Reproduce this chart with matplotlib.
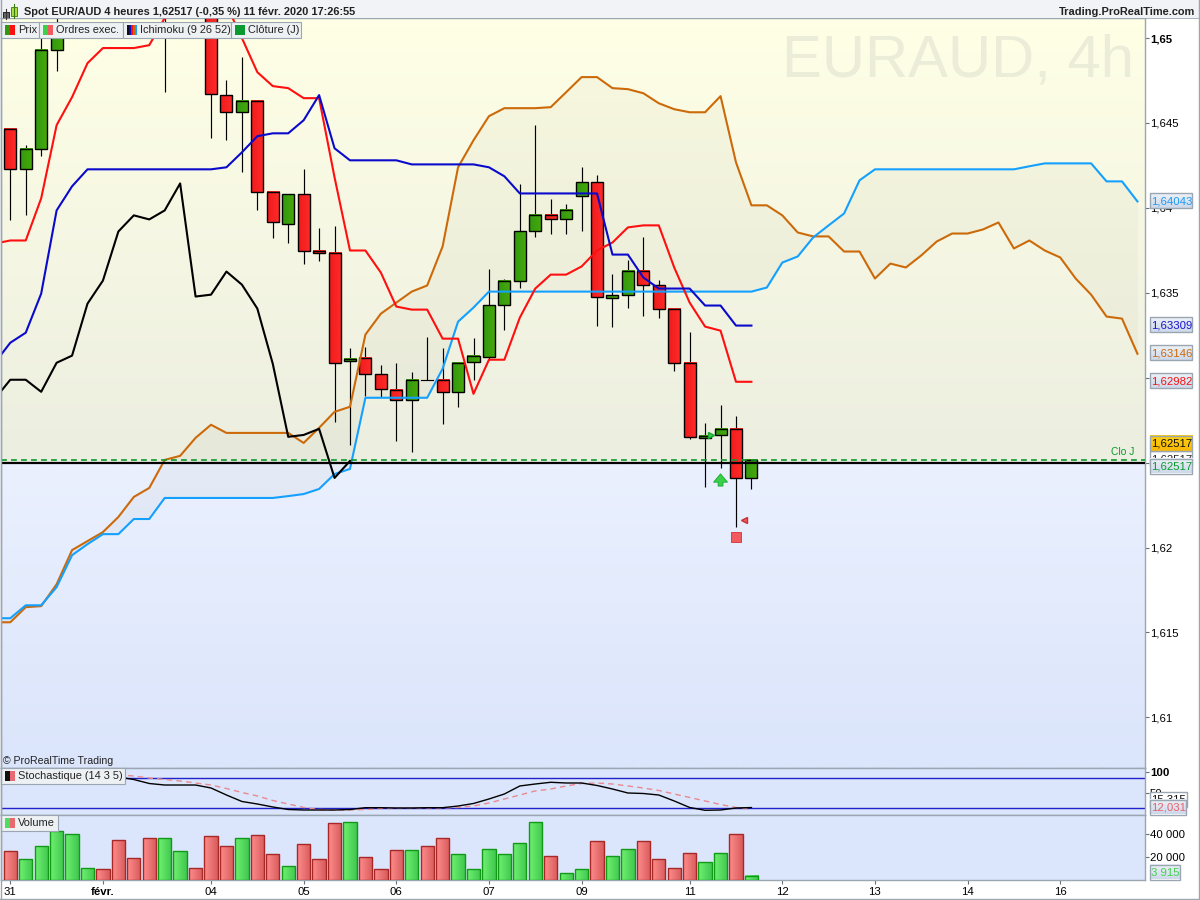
import numpy as np
import matplotlib as mpl
mpl.use('Agg')
import matplotlib.pyplot as plt
from matplotlib.patches import Rectangle

plt.rcParams['font.family'] = ['Liberation Sans', 'DejaVu Sans']

# candles: hidden ones above the top of the chart are left out
candle_idx = [0, 1, 2, 3, 10, 13, 14, 15, 16, 17, 18, 19, 20, 21, 22, 23, 24, 25, 26, 27, 28, 29, 30, 31,
              32, 33, 34, 35, 36, 37, 38, 39, 40, 41, 42, 43, 44, 45, 46, 47, 48]
opens = [1.64463, 1.64227, 1.64345, 1.64929, 1.6530, 1.6525, 1.64663, 1.64563, 1.64628, 1.64091, 1.63908,
         1.64079, 1.63749, 1.63737, 1.63100, 1.63118, 1.63023, 1.62929, 1.62870, 1.62988, 1.62988, 1.62917,
         1.63094, 1.63124, 1.63430, 1.63572, 1.63861, 1.63961, 1.63932, 1.64068, 1.64150, 1.63472, 1.63489,
         1.63631, 1.63543, 1.63407, 1.63088, 1.62646, 1.62663, 1.62699, 1.62410]
closes = [1.64227, 1.64345, 1.64929, 1.65077, 1.6520, 1.64669, 1.64563, 1.64628, 1.64091, 1.63914, 1.64079,
          1.63749, 1.63737, 1.63088, 1.63112, 1.63023, 1.62935, 1.62870, 1.62988, 1.62988, 1.62917, 1.63088,
          1.63130, 1.63430, 1.63572, 1.63861, 1.63956, 1.63932, 1.63985, 1.64150, 1.63478, 1.63489, 1.63631,
          1.63548, 1.63407, 1.63088, 1.62652, 1.62658, 1.62699, 1.62410, 1.62517]
highs = [1.64463, 1.64369, 1.65006, 1.65118, 1.6535, 1.6530, 1.64752, 1.64888, 1.64628, 1.64097, 1.64079,
         1.64227, 1.63879, 1.63891, 1.63177, 1.63183, 1.63076, 1.63088, 1.63035, 1.63242, 1.63177, 1.63094,
         1.63236, 1.63643, 1.63584, 1.64138, 1.64487, 1.64050, 1.64020, 1.64239, 1.64192, 1.63613, 1.63696,
         1.63826, 1.63578, 1.63407, 1.63271, 1.62734, 1.62840, 1.62776, 1.62517]
lows = [1.63926, 1.63961, 1.64304, 1.64805, 1.64681, 1.64410, 1.64398, 1.64209, 1.63985, 1.63820, 1.63796,
        1.63672, 1.63690, 1.62740, 1.62604, 1.62894, 1.62888, 1.62628, 1.62563, 1.62988, 1.62728, 1.62829,
        1.62988, 1.63106, 1.63283, 1.63531, 1.63826, 1.63849, 1.63849, 1.63861, 1.63307, 1.63301, 1.63413,
        1.63366, 1.63354, 1.63041, 1.62640, 1.62357, 1.62469, 1.62121, 1.62345]

# ichimoku, first value is the bar before the left edge
tenkan = [1.63790, 1.63808, 1.63808, 1.64056, 1.64487, 1.64652, 1.64852, 1.64941, 1.64941, 1.64941, 1.64958,
          1.65118, 1.6515, 1.6515, 1.6518, 1.65195, 1.65000, 1.64799, 1.64717, 1.64705, 1.64646, 1.64646,
          1.64180, 1.63749, 1.63749, 1.63619, 1.63419, 1.63401, 1.63401, 1.63230, 1.63230, 1.62905, 1.63106,
          1.63106, 1.63354, 1.63525, 1.63607, 1.63607, 1.63655, 1.63749, 1.63796, 1.63885, 1.63897, 1.63897,
          1.63649, 1.63442, 1.63301, 1.63277, 1.62976, 1.62976]
kijun = [1.63088, 1.63206, 1.63265, 1.63495, 1.63985, 1.64127, 1.64227, 1.64227, 1.64227, 1.64227, 1.64227,
         1.64227, 1.64227, 1.64227, 1.64227, 1.64239, 1.64327, 1.64422, 1.64439, 1.64439, 1.64516, 1.64664,
         1.64351, 1.64280, 1.64280, 1.64280, 1.64280, 1.64256, 1.64256, 1.64256, 1.64256, 1.64256, 1.64239,
         1.64186, 1.64085, 1.64085, 1.64085, 1.64085, 1.64085, 1.64085, 1.63725, 1.63725, 1.63590, 1.63525,
         1.63525, 1.63525, 1.63425, 1.63425, 1.63307, 1.63307]
chikou = [1.62876, 1.62988, 1.62988, 1.62917, 1.63088, 1.63130, 1.63436, 1.63572, 1.63861, 1.63956, 1.63932,
          1.63985, 1.64144, 1.63478, 1.63489, 1.63625, 1.63548, 1.63407, 1.63082, 1.62652, 1.62663, 1.62699,
          1.62410, 1.62510]
senkou_b = [1.61560, 1.61560, 1.61649, 1.61655, 1.61784, 1.61985, 1.62038, 1.62091, 1.62180, 1.62298, 1.62351,
            1.62516, 1.62540, 1.62646, 1.62723, 1.62675, 1.62675, 1.62675, 1.62675, 1.62675, 1.62616, 1.62705,
            1.62799, 1.62829, 1.63254, 1.63377, 1.63442, 1.63507, 1.63543, 1.63773, 1.64239, 1.64398, 1.64540,
            1.64587, 1.64587, 1.64587, 1.64593, 1.64681, 1.64770, 1.64770, 1.64705, 1.64699, 1.64675, 1.64616,
            1.64581, 1.64563, 1.64563, 1.64658, 1.64268, 1.64015, 1.64015, 1.63956, 1.63855, 1.63832, 1.63832,
            1.63743, 1.63743, 1.63584, 1.63672, 1.63649, 1.63720, 1.63802, 1.63849, 1.63849, 1.63873, 1.63914,
            1.63761, 1.63808, 1.63749, 1.63708, 1.63584, 1.63489, 1.63360, 1.63348, 1.63141]
senkou_a = [1.61584, 1.61584, 1.61660, 1.61660, 1.61767, 1.61955, 1.62020, 1.62079, 1.62079, 1.62168, 1.62168,
            1.62292, 1.62292, 1.62292, 1.62292, 1.62292, 1.62292, 1.62292, 1.62292, 1.62303, 1.62315, 1.62345,
            1.62433, 1.62463, 1.62882, 1.62882, 1.62882, 1.62882, 1.62882, 1.63053, 1.63330, 1.63413, 1.63507,
            1.63507, 1.63507, 1.63507, 1.63507, 1.63507, 1.63507, 1.63507, 1.63507, 1.63507, 1.63507, 1.63507,
            1.63507, 1.63507, 1.63507, 1.63507, 1.63507, 1.63507, 1.63531, 1.63678, 1.63714, 1.63826, 1.63897,
            1.63967, 1.64162, 1.64227, 1.64227, 1.64227, 1.64227, 1.64227, 1.64227, 1.64227, 1.64227, 1.64227,
            1.64227, 1.64245, 1.64262, 1.64262, 1.64262, 1.64262, 1.64156, 1.64156, 1.64038]

# stochastic from bar 7 on (before that it sits behind the legend)
stoch_k = [88.1, 82.1, 72.6, 69.0, 69.0, 69.0, 61.9, 45.2, 29.8, 23.8, 16.7, 10.7, 9.5, 9.5, 9.5, 10.7, 15.0,
           15.0, 14.3, 14.3, 15.0, 15.0, 19.0, 25.0, 35.7, 47.6, 66.7, 71.4, 75.5, 73.8, 73.8, 67.9, 59.5, 50.0,
           48.8, 45.2, 31.0, 15.5, 8.8, 9.5, 14.3, 15.3]
stoch_d = [92.9, 90.5, 85.7, 82.1, 78.6, 73.8, 69.0, 60.7, 51.2, 42.9, 32.1, 23.8, 15.5, 10.7, 9.5, 9.5, 10.7,
           13.1, 14.3, 14.3, 14.3, 14.3, 15.5, 19.0, 26.2, 35.7, 45.2, 54.8, 59.5, 66.7, 72.6, 73.8, 71.4, 66.7,
           61.9, 56.0, 47.6, 39.3, 31.0, 22.6, 15.5, 12.03]

volumes = [25230, 18000, 29300, 42600, 39700, 10200, 9300, 34500, 18900, 36300, 36300, 25000, 10200, 38000,
           29300, 36300, 38900, 22400, 11900, 31000, 18000, 49300, 50200, 19700, 9300, 25800, 25800, 29300,
           36300, 22400, 9300, 26700, 22400, 31900, 50200, 20600, 5800, 9300, 33700, 20600, 26700, 33700,
           18000, 10200, 23200, 15400, 23200, 39700, 3915]
vol_up = "rgggggrrrrggrrrgrrgrrrgrrrgrrggggggrggrggrrrrggrg"

price_ticks = [1.65, 1.645, 1.64, 1.635, 1.63, 1.625, 1.62, 1.615, 1.61]
price_labels = ['1,65', '1,645', '1,64', '1,635', '1,63', '1,625', '1,62', '1,615', '1,61']
day_idx = [0, 6, 13, 19, 25, 31, 37, 44, 50, 56, 62, 68]
day_labels = ['31', 'févr.', '04', '05', '06', '07', '09', '11', '12', '13', '14', '16']

close_line = 1.62500
daily_close = 1.62517
buy_arrow = (46, 1.62398)
buy_tri = (45.4, 1.62664)
sell_tri = (47.5, 1.62162)
sell_square = (47, 1.62062)

FRAME = '#9aa6b2'
W, H = 1200., 900.
LEFT, RIGHT = 1., 1145.
XLIM = (-0.602, 73.49)


def axes_px(y0, y1):
    return fig.add_axes([LEFT / W, 1 - y1 / H, (RIGHT - LEFT) / W, (y1 - y0) / H])


def shade(ax, x0, x1, y0, y1, c0, c1, vertical=False, z=3):
    # y0 is the value at the top edge of the shaded box, y1 at the bottom one
    cols = mpl.colors.to_rgb(c0), mpl.colors.to_rgb(c1)
    grad = np.linspace(cols[0], cols[1], 24)
    grad = grad[:, None, :] if vertical else grad[None, :, :]
    ax.imshow(grad, extent=[x0, x1, y1, y0], aspect='auto', origin='upper', zorder=z, interpolation='bilinear')


fig = plt.figure(figsize=(12, 9), dpi=100, facecolor='white')

# --- price panel
ax = axes_px(18, 768)
ylim = (1.60702, 1.65118)
shade(ax, *XLIM, ylim[1], close_line, '#ffffe6', '#eceee0', vertical=True, z=0)
shade(ax, *XLIM, close_line, ylim[0], '#eaf0fe', '#dbe5fb', vertical=True, z=0)

x_cloud = np.arange(-1, 74)
ax.fill_between(x_cloud, senkou_a, senkou_b, color='#666644', alpha=0.04, lw=0, zorder=1)

for i, o, c, h, l in zip(candle_idx, opens, closes, highs, lows):
    ax.plot([i, i], [l, h], color='black', lw=0.85, zorder=2, solid_capstyle='butt')
    if o == c:
        ax.plot([i - 0.39, i + 0.39], [o, o], color='black', lw=0.85, zorder=3)
        continue
    top, bot = max(o, c), min(o, c)
    if c > o:
        shade(ax, i - 0.39, i + 0.39, top, bot, '#2f9a10', '#4aa80c')
    else:
        shade(ax, i - 0.39, i + 0.39, top, bot, '#f01c1c', '#ff2a2a')
    ax.add_patch(Rectangle((i - 0.39, bot), 0.78, top - bot, fill=False, ec='black', lw=1.0, zorder=4))

ax.plot(x_cloud, senkou_b, color='#cc6a0a', lw=1.5, zorder=5)
ax.plot(x_cloud, senkou_a, color='#14a0ff', lw=1.5, zorder=5)
ax.plot(np.arange(-1, 23), chikou, color='black', lw=1.5, zorder=5)
ax.plot(np.arange(-1, 49), tenkan, color='#ff0f0f', lw=1.5, zorder=5)
ax.plot(np.arange(-1, 49), kijun, color='#0a0acc', lw=1.5, zorder=5)

ax.axhline(close_line, color='black', lw=1.6, zorder=6)
ax.axhline(daily_close, color='#0a9a30', lw=1.2, ls=(0, (3.5, 2.5)), zorder=6)

ax.annotate('', xy=(buy_arrow[0], buy_arrow[1] + 0.00036), xytext=(buy_arrow[0], buy_arrow[1] - 0.00036),
            arrowprops=dict(width=3.5, headwidth=10, headlength=6, fc='#3ad04a', ec='#18a830', lw=0.6,
                            shrink=0), zorder=7)
ax.plot(*buy_tri, marker='>', ms=5, color='#3ad04a', mec='#18a830', zorder=7)
ax.plot(*sell_tri, marker='<', ms=5, color='#f25a5f', mec='#c83030', zorder=7)
ax.plot(*sell_square, marker='s', ms=7.5, color='#f25a5f', mec='#d84040', mew=0.7, zorder=7)

ax.set_ylim(ylim)
ax.set_yticks(price_ticks, price_labels)

# --- stochastic panel
ax2 = axes_px(768, 815)
ax2.set_facecolor('#dbe5fb')
x_st = np.arange(7, 49)
ax2.axhline(86.7, color='#2222cc', lw=1, zorder=2)
ax2.axhline(13.6, color='#2222cc', lw=1, zorder=2)
ax2.plot(x_st, stoch_d, color='#e88a90', lw=1.0, ls=(0, (4, 3)), zorder=3)
ax2.plot(x_st, stoch_k, color='black', lw=1.0, zorder=4)
ax2.set_ylim(-2.4, 109.5)
ax2.set_yticks([100, 50], ['100', '50'])

# --- volume panel
ax3 = axes_px(815, 880)
ax3.set_facecolor('#dbe5fb')
for i, (v, kind) in enumerate(zip(volumes, vol_up)):
    if kind == 'g':
        shade(ax3, i - 0.43, i + 0.43, v, 0, '#70f070', '#40c850')
        ec = '#109a18'
    else:
        shade(ax3, i - 0.43, i + 0.43, v, 0, '#ff8c8c', '#d85c5c')
        ec = '#a82828'
    ax3.add_patch(Rectangle((i - 0.43, 0), 0.86, v, fill=False, ec=ec, lw=1.0, zorder=4))
ax3.set_ylim(0, 56550)
ax3.set_yticks([40000, 20000], ['40 000', '20 000'])
ax3.set_xticks(day_idx, day_labels)
ax3.get_xticklabels()[1].set_fontweight('bold')

for a in (ax, ax2, ax3):
    a.set_xlim(XLIM)
    a.yaxis.tick_right()
    a.tick_params(axis='y', length=3, width=0.8, color='#66707a', pad=0.5, labelsize=8.2)
    a.tick_params(axis='x', length=3, width=0.8, color='#66707a', pad=2, labelsize=8.2)
    if a is not ax3:
        a.set_xticks([])
    for s in a.spines.values():
        s.set_color(FRAME)
        s.set_linewidth(1.0)
ax.get_yticklabels()[0].set_fontweight('bold')
ax2.get_yticklabels()[0].set_fontweight('bold')

# --- chrome on top, in pixel coordinates
ov = fig.add_axes([0, 0, 1, 1], zorder=20)
ov.set_xlim(0, W)
ov.set_ylim(H, 0)
ov.axis('off')
ov.patch.set_alpha(0)

ov.add_patch(Rectangle((0, 0), W, 18, fc='#f1f3f6', ec='none'))
ov.plot([0.5, 0.5], [0, 899], color=FRAME, lw=1)
ov.plot([1199.2, 1199.2], [0, 899], color=FRAME, lw=1)
ov.plot([0, 1200], [899.2, 899.2], color=FRAME, lw=1)
ov.plot([0, 1200], [18, 18], color=FRAME, lw=0.6)

# small candle icon in the title bar
ov.plot([6, 6], [9, 19], color='#333333', lw=0.8)
ov.add_patch(Rectangle((3, 11.5), 6, 6, fc='#666666', ec='#222222', lw=0.7))
ov.plot([14, 14], [4, 18], color='#3a7a10', lw=0.8)
ov.add_patch(Rectangle((11, 7), 6, 9, fc='#a8e040', ec='#4a8a10', lw=0.7))

ov.text(24, 12, 'Spot EUR/AUD 4 heures 1,62517 (-0,35 %) 11 févr. 2020 17:26:55', fontsize=7.9,
        fontweight='bold', color='#222222', va='center')
ov.text(1195, 12, 'Trading.ProRealTime.com', fontsize=7.9, fontweight='bold', color='#222222',
        va='center', ha='right')
ax.text(0.99, 0.9425, 'EURAUD, 4h', fontsize=43, color='#ecedd9', ha='right', va='center',
        transform=ax.transAxes, zorder=0.5)
ov.text(1134, 452, 'Clo J', fontsize=7.4, color='#0a9a30', ha='right', va='center')
ov.text(3, 761, '© ProRealTime Trading', fontsize=7.6, color='#222222', va='center')


def legend_box(x0, x1, y0, label, swatches):
    ov.add_patch(Rectangle((x0, y0), x1 - x0, 15.5, fc='#eef1f3', ec=FRAME, lw=0.8))
    sw = 10. / len(swatches)
    for k, c in enumerate(swatches):
        ov.add_patch(Rectangle((x0 + 4 + k * sw, y0 + 3), sw, 10, fc=c, ec='none'))
    ov.text(x0 + 17, y0 + 8, label, fontsize=7.9, color='#222222', va='center')


legend_box(1, 39, 22, 'Prix', ['#2f9a10', '#ff0f0f'])
legend_box(39, 122.5, 22, 'Ordres exec.', ['#3ad04a', '#f25a5f'])
legend_box(122.5, 230.5, 22, 'Ichimoku (9 26 52)', ['#111111', '#0a0acc', '#ff0f0f', '#cc6a0a', '#14a0ff'])
legend_box(230.5, 301, 22, 'Clôture (J)', ['#0a9a30'])
legend_box(1, 125, 768, 'Stochastique (14 3 5)', ['#111111', '#e86a70'])
legend_box(1, 57.5, 815, 'Volume', ['#50dc60', '#e86a70'])

box_z = [5]


def value_box(y0, y1, label, color, x1=1192, top='#eef2f8', bottom='#cdd8ea'):
    # later boxes sit over earlier ones, as on the platform's axis
    z = box_z[0]
    box_z[0] += 3
    shade(ov, 1149.5, x1, y0, y1, top, bottom, vertical=True, z=z)
    ov.text(1151, (y0 + y1) / 2 + 0.5, label, fontsize=8.2, color=color, va='center', zorder=z + 1)
    ov.add_patch(Rectangle((1149.5, y0), x1 - 1149.5, y1 - y0, fill=False, ec=FRAME, lw=1, zorder=z + 2))


value_box(193, 208, '1,64043', '#1e9bf0')
value_box(317, 332, '1,63309', '#1414cc')
value_box(345, 360, '1,63146', '#cc6a0a')
value_box(373, 388, '1,62982', '#f01414')
value_box(451, 466, '1,62517', '#222222', top='#ffffff', bottom='#ffffff')
value_box(435.5, 451, '1,62517', '#111111', top='#ffd010', bottom='#f8b808')
value_box(459, 473.5, '1,62517', '#0a9a30')
value_box(792, 807, '15,315', '#111111', x1=1187, top='#ffffff', bottom='#ffffff')
value_box(800, 814.5, '12,031', '#e8606a', x1=1186)
value_box(865, 879.5, '3 915', '#46d050', x1=1179.5)
ov.set_xlim(0, W)
ov.set_ylim(H, 0)

fig.savefig('out.png', dpi=100)
